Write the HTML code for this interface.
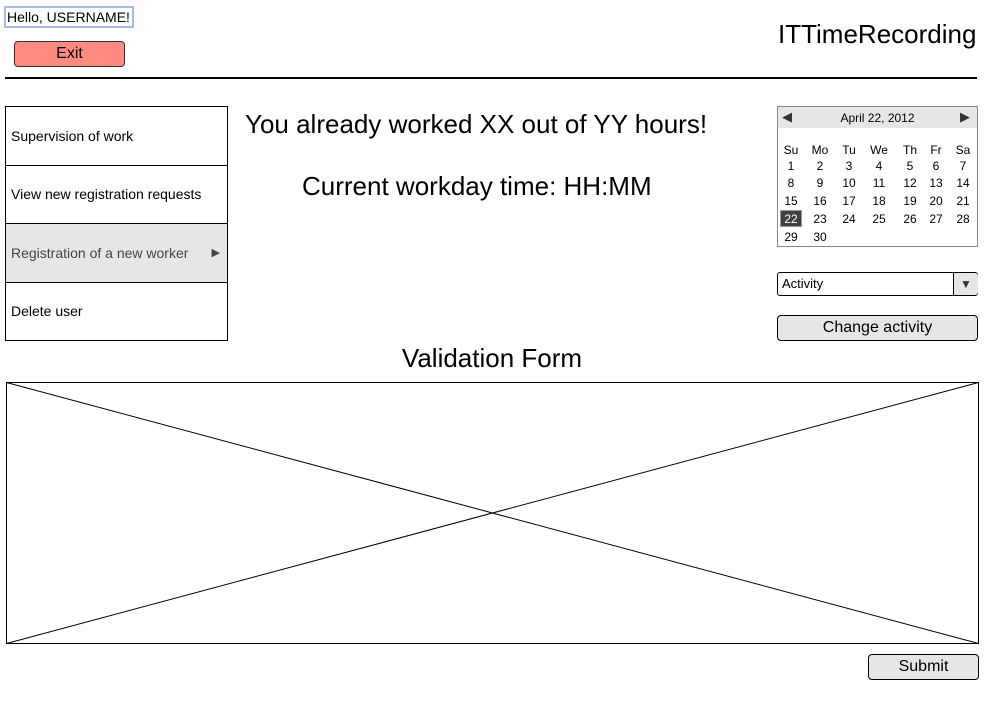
<!DOCTYPE html>
<html><head><style>
body{margin:0;width:986px;height:702px;background:#fff;position:relative;font-family:"Liberation Sans",Arial,sans-serif;overflow:hidden}
.a{position:absolute}
.c{position:absolute;font-size:12px;width:26px;text-align:center;transform:translateX(-13px);line-height:14px;color:#000}
.m{position:absolute;left:5px;width:223px;border:1px solid #000;font-size:14px;line-height:14px;padding-left:5px;box-sizing:border-box}
</style></head><body>
<div class="a" style="left:4px;top:6px;width:130px;height:22px;border:2px solid #a8b8f0;box-sizing:border-box;font-size:14px;line-height:18px;padding-left:1px">Hello, USERNAME!</div>
<div class="a" style="left:14px;top:41px;width:111px;height:26px;background:#ff8a80;border:1px solid #333;border-radius:4px;box-sizing:border-box;font-size:16px;text-align:center;line-height:24px">Exit</div>
<div class="a" style="left:778px;top:19px;font-size:26px">ITTimeRecording</div>
<div class="a" style="left:5px;top:77px;width:972px;height:2px;background:#000"></div>

<div class="m" style="top:106px;height:60px;line-height:58px">Supervision of work</div>
<div class="m" style="top:165px;height:59px;line-height:57px">View new registration requests</div>
<div class="m" style="top:223px;height:60px;line-height:58px;background:#e6e6e6;color:#444">Registration of a new worker<span style="position:absolute;right:7px;font-size:11px">&#9654;</span></div>
<div class="m" style="top:282px;height:59px;line-height:57px">Delete user</div>

<div class="a" style="left:245px;top:109px;font-size:26px">You already worked XX out of YY hours!</div>
<div class="a" style="left:302px;top:171px;font-size:26px">Current workday time: HH:MM</div>

<div class="a" style="left:777px;top:106px;width:201px;height:141px;border:1px solid #888;box-sizing:border-box"></div>
<div class="a" style="left:778px;top:107px;width:199px;height:21px;background:#e6e6e6"></div>
<div class="a" style="left:782px;top:109px;font-size:13px;color:#333">&#9664;</div>
<div class="a" style="left:960px;top:109px;font-size:13px;color:#333">&#9654;</div>
<div class="a" style="left:777px;width:201px;top:111px;text-align:center;font-size:12px">April 22, 2012</div>
<div class="a" style="left:780px;top:210px;width:22px;height:17px;background:#404040;border:1px solid #999;box-sizing:border-box"></div>
<div id="cal"></div>
<script>
var xs=[791,820,849,879,910,936,963],ys=[143,159,176,194,212,230];
var h='',d=['Su','Mo','Tu','We','Th','Fr','Sa'];
for(var i=0;i<7;i++)h+='<div class="c" style="left:'+xs[i]+'px;top:'+ys[0]+'px">'+d[i]+'</div>';
for(var n=1;n<=30;n++){var k=n-1,r=Math.floor(k/7)+1,c=k%7;h+='<div class="c" style="left:'+xs[c]+'px;top:'+ys[r]+'px'+(n==22?';color:#fff':'')+'">'+n+'</div>';}
document.getElementById('cal').innerHTML=h;
</script>

<div class="a" style="left:777px;top:272px;width:201px;height:24px;border:1px solid #000;border-radius:3px;box-sizing:border-box;font-size:13px;line-height:22px;padding-left:4px">Activity</div>
<div class="a" style="left:953px;top:273px;width:24px;height:22px;background:#e6e6e6;border-left:1px solid #000;border-radius:0 3px 3px 0;font-size:12px;text-align:center;line-height:22px;color:#333">&#9660;</div>
<div class="a" style="left:777px;top:315px;width:201px;height:26px;border:1px solid #000;border-radius:4px;background:#e6e6e6;box-sizing:border-box;font-size:16px;text-align:center;line-height:24px">Change activity</div>

<div class="a" style="left:0;width:984px;top:343px;text-align:center;font-size:26px">Validation Form</div>
<svg class="a" style="left:0;top:0" width="986" height="702"><rect x="6.5" y="382.5" width="972" height="261" fill="none" stroke="#000"/><line x1="6.5" y1="382.5" x2="978.5" y2="643.5" stroke="#000"/><line x1="6.5" y1="643.5" x2="978.5" y2="382.5" stroke="#000"/></svg>
<div class="a" style="left:868px;top:654px;width:111px;height:26px;border:1px solid #000;border-radius:4px;background:#e6e6e6;box-sizing:border-box;font-size:16px;text-align:center;line-height:24px">Submit</div>
</body></html>
